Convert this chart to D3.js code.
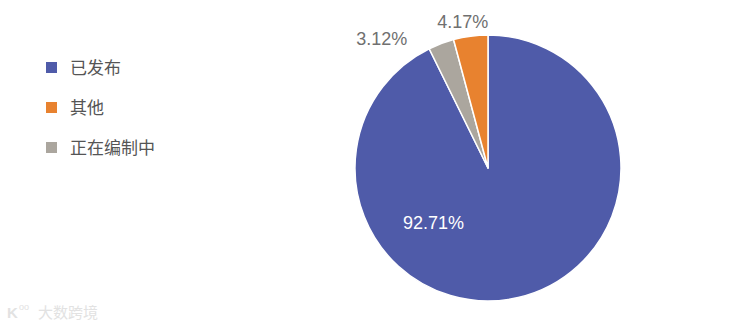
<!DOCTYPE html>
<html>
<head>
<meta charset="utf-8">
<script src="https://cdn.jsdelivr.net/npm/d3@7"></script>
<style>
  body { margin: 0; background: #fff; }
  svg text { font-family: "Liberation Sans", Arial, "Noto Sans CJK SC", sans-serif; }
</style>
</head>
<body>
<div id="chart"></div>
<script>
// data
var categories = ["已发布", "其他", "正在编制中"];
var values = [92.71, 4.17, 3.12];
var colors = ["#4f5ba9", "#e8822f", "#aba69e"];
// clockwise order of slices, starting at 12 o'clock
var drawOrder = ["已发布", "正在编制中", "其他"];

var W = 745, H = 327;
var cx = 488, cy = 168, r = 133;

var svg = d3.select("#chart").append("svg").attr("width", W).attr("height", H);

var color = d3.scaleOrdinal().domain(categories).range(colors);
var valueOf = {};
categories.forEach(function (c, i) { valueOf[c] = values[i]; });

var pie = d3.pie().sort(null).value(function (d) { return valueOf[d]; });
var arcs = pie(drawOrder);
var arc = d3.arc().innerRadius(0).outerRadius(r);

var g = svg.append("g").attr("transform", "translate(" + cx + "," + cy + ")");
g.selectAll("path").data(arcs).enter().append("path")
  .attr("d", arc)
  .attr("fill", function (d) { return color(d.data); })
  .attr("stroke", "#fff")
  .attr("stroke-width", 1.5)
  .attr("stroke-linejoin", "round");

// labels: big slice inside, small ones outside
var fmt = function (v) { return v.toFixed(2) + "%"; };
function labelPos(d) {
  var mid = (d.startAngle + d.endAngle) / 2, rad;
  if (d.data === "已发布") {
    mid = Math.PI * 1.25; rad = r * 0.58;
  } else if (d.data === "正在编制中") {
    mid = mid - 0.33; rad = r + 34;
  } else {
    mid = mid - 0.04; rad = r + 15;
  }
  return [Math.sin(mid) * rad, -Math.cos(mid) * rad];
}
g.selectAll("text.lbl").data(arcs).enter().append("text")
  .attr("class", "lbl")
  .attr("x", function (d) { return labelPos(d)[0]; })
  .attr("y", function (d) { return labelPos(d)[1]; })
  .attr("text-anchor", "middle")
  .attr("dominant-baseline", "central")
  .attr("font-size", 18)
  .attr("fill", function (d) { return d.data === "已发布" ? "#fff" : "#707070"; })
  .text(function (d) { return fmt(valueOf[d.data]); });

// legend
var legend = svg.append("g").attr("transform", "translate(47,68)");
var li = legend.selectAll("g").data(categories).enter().append("g")
  .attr("transform", function (d, i) { return "translate(0," + (i * 40) + ")"; });
li.append("rect").attr("x", -1).attr("y", -6).attr("width", 11).attr("height", 11)
  .attr("fill", function (d) { return color(d); });
li.append("text").attr("x", 23).attr("y", 0)
  .attr("dominant-baseline", "central")
  .attr("font-size", 17)
  .attr("fill", "#555")
  .text(function (d) { return d; });

// watermark
var wm = svg.append("g").attr("transform", "translate(7,312)");
wm.append("text").attr("x", 0).attr("y", 0).attr("dominant-baseline", "central")
  .attr("font-size", 15).attr("font-weight", "bold").attr("fill", "#e2e2e2").text("K");
wm.append("text").attr("x", 12).attr("y", -5).attr("dominant-baseline", "central")
  .attr("font-size", 9).attr("fill", "#e2e2e2").text("oo");
wm.append("text").attr("x", 31).attr("y", 0).attr("dominant-baseline", "central")
  .attr("font-size", 15).attr("fill", "#e2e2e2").text("大数跨境");
</script>
</body>
</html>
